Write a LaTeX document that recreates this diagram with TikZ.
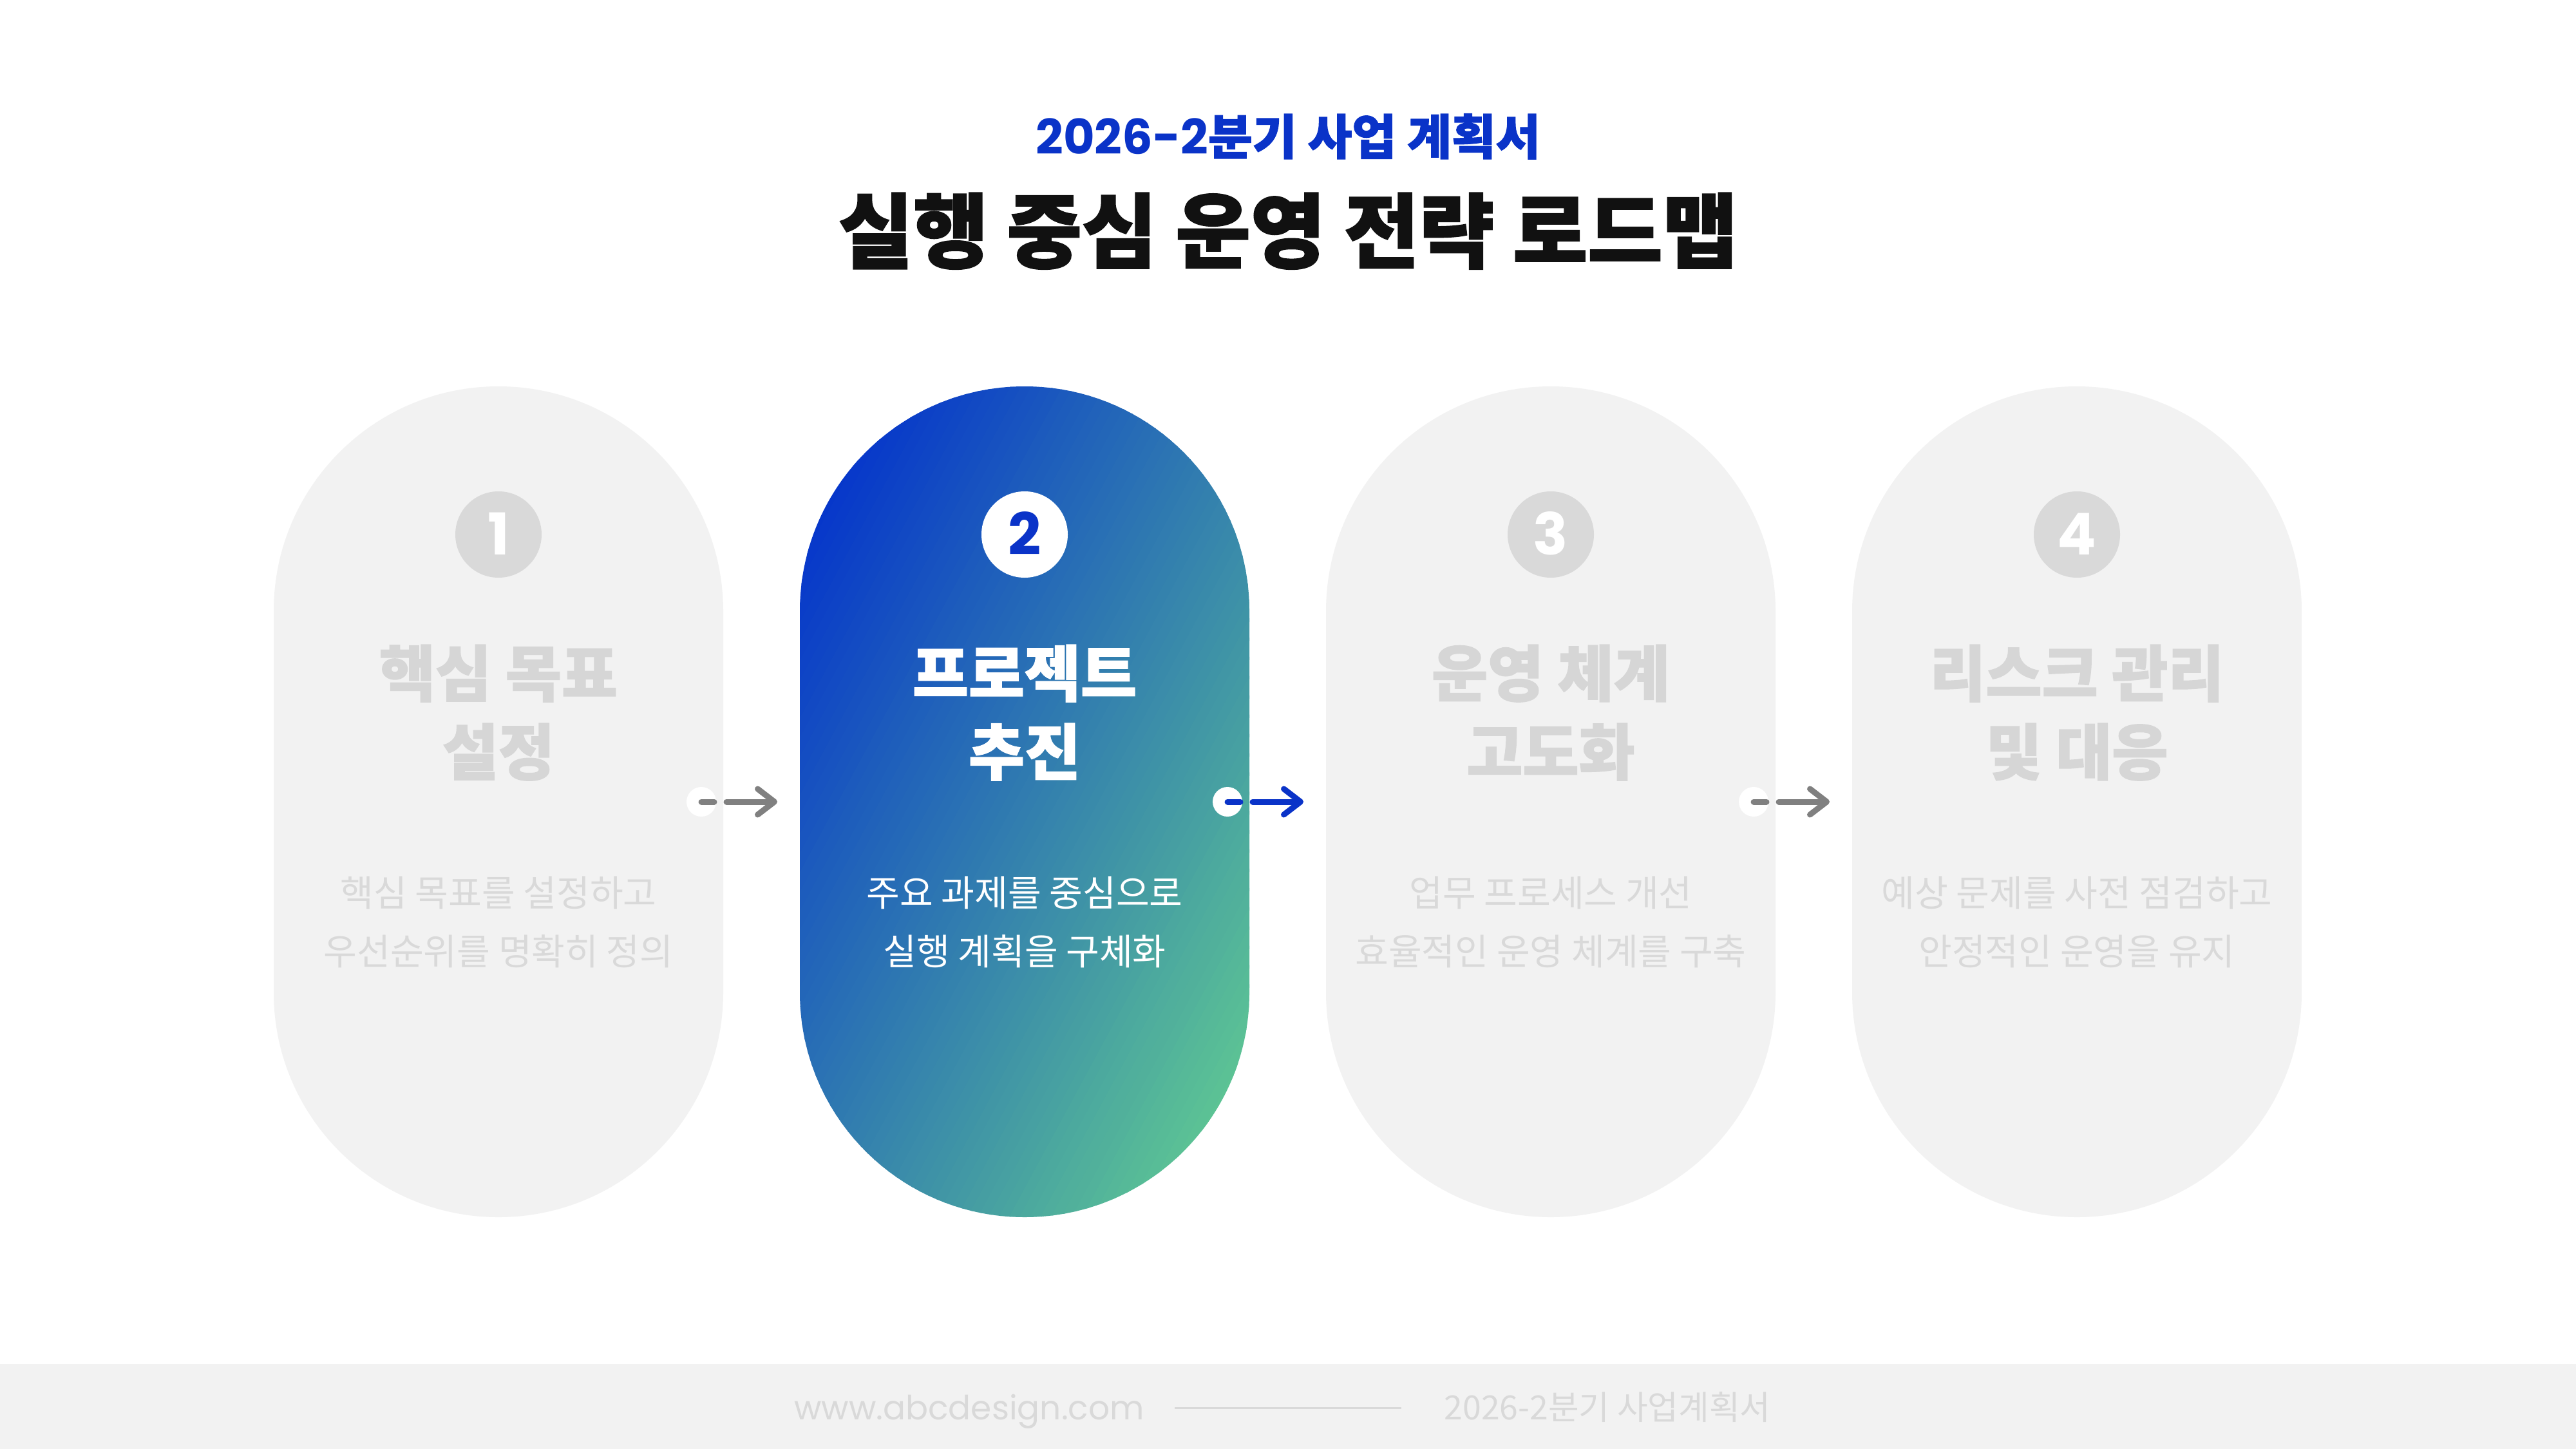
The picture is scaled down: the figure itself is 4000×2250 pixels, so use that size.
\documentclass[tikz,border=0pt]{standalone}
\usepackage{fontspec}
\usetikzlibrary{arrows.meta}
\setmainfont{Noto Sans CJK KR}
\newfontfamily\krblack[FakeBold=1.6]{Noto Sans CJK KR Black}
\newfontfamily\kr{Noto Sans CJK KR}
\newfontfamily\pop{Poppins}
\definecolor{brandblue}{HTML}{0A33C8}
\definecolor{gradblue}{HTML}{0433CC}
\definecolor{gradgreen}{HTML}{66D38E}
\definecolor{pillgray}{HTML}{F2F2F2}
\definecolor{circgray}{HTML}{D9D9D9}
\definecolor{textgray}{HTML}{D6D6D6}
\definecolor{arrowgray}{HTML}{808080}
\definecolor{titleblack}{HTML}{111111}
\begin{document}
\begin{tikzpicture}[x=1bp,y=-1bp,
  pill/.style={rectangle, rounded corners=349bp, minimum width=698bp, minimum height=1290bp, inner sep=0pt},
  graypill/.style={pill, fill=pillgray},
  numc/.style={circle, minimum size=134bp, inner sep=0pt, font=\fontsize{90}{90}\selectfont\pop\bfseries, text height=63bp, text depth=0pt},
  ttl/.style={anchor=base, inner sep=0pt, font=\fontsize{95}{95}\selectfont\krblack},
  desc/.style={anchor=base, inner sep=0pt, font=\fontsize{56.5}{56.5}\selectfont\kr},
  dotc/.style={circle, fill=white, minimum size=46bp, inner sep=0pt},
  conn/.style={line width=9bp, line cap=round, dash pattern=on 20bp off 19bp on 400bp, -{Straight Barb[length=26bp,width=40bp,line cap=round,line join=round]}},
  foot/.style={anchor=base, inner sep=0pt, text=circgray}
]
\useasboundingbox (0,0) rectangle (4000,2250);
\fill[white] (0,0) rectangle (4000,2250);

% header
\node[anchor=base, inner sep=0pt, text=brandblue, font=\fontsize{75}{75}\selectfont\krblack] (sub) at (2000,240) {{\pop\bfseries 2026-2}분기 사업 계획서};
\node[anchor=base, inner sep=0pt, text=titleblack, font=\fontsize{127}{127}\selectfont\krblack] (title) at (2000,406) {실행 중심 운영 전략 로드맵};

% pills
\node[graypill] (p1) at (774,1245) {};
\begin{scope}
  \clip[rounded corners=349bp] (1242,600) rectangle (1940,1890);
  \foreach \i in {0,...,79} {
    \pgfmathsetmacro\pct{100*\i/79}
    \pgfmathsetmacro\ga{90+\i*14.225-1.5}
    \pgfmathsetmacro\gb{90+(\i+1)*14.225+1.5}
    \ifnum\i=0 \def\ga{-400}\fi
    \ifnum\i=79 \def\gb{2400}\fi
    \fill[gradgreen!\pct!gradblue, shift={(1242,600)}, rotate=-28.4] (\ga,-3000) rectangle (\gb,3000);
  }
\end{scope}
\node[pill] (p2) at (1591,1245) {};
\node[graypill] (p3) at (2408,1245) {};
\node[graypill] (p4) at (3225,1245) {};

% number circles
\node[numc, fill=circgray, text=white] (n1) at (774,830) {1};
\node[numc, fill=white, text=brandblue] (n2) at (1591,830) {2};
\node[numc, fill=circgray, text=white] (n3) at (2408,830) {3};
\node[numc, fill=circgray, text=white] (n4) at (3225,830) {4};

% titles
\node[ttl, text=textgray] (t1a) at (774,1081) {핵심 목표};
\node[ttl, text=textgray] (t1b) at (774,1203) {설정};
\node[ttl, text=white] (t2a) at (1591,1081) {프로젝트};
\node[ttl, text=white] (t2b) at (1591,1203) {추진};
\node[ttl, text=textgray] (t3a) at (2408,1081) {운영 체계};
\node[ttl, text=textgray] (t3b) at (2408,1203) {고도화};
\node[ttl, text=textgray] (t4a) at (3225,1081) {리스크 관리};
\node[ttl, text=textgray] (t4b) at (3225,1203) {및 대응};

% descriptions
\node[desc, text=circgray] (d1a) at (774,1407) {핵심 목표를 설정하고};
\node[desc, text=circgray] (d1b) at (774,1498) {우선순위를 명확히 정의};
\node[desc, text=white] (d2a) at (1591,1407) {주요 과제를 중심으로};
\node[desc, text=white] (d2b) at (1591,1498) {실행 계획을 구체화};
\node[desc, text=circgray] (d3a) at (2408,1407) {업무 프로세스 개선};
\node[desc, text=circgray] (d3b) at (2408,1498) {효율적인 운영 체계를 구축};
\node[desc, text=circgray] (d4a) at (3225,1407) {예상 문제를 사전 점검하고};
\node[desc, text=circgray] (d4b) at (3225,1498) {안정적인 운영을 유지};

% connectors
\node[dotc] (k1) at (1089,1245) {};
\node[dotc] (k2) at (1906,1245) {};
\node[dotc] (k3) at (2723,1245) {};
\coordinate (e1) at (1207,1245);
\coordinate (e2) at (2024,1245);
\coordinate (e3) at (2841,1245);
\draw[conn, arrowgray] (k1.center) -- (e1);
\draw[conn, brandblue] (k2.center) -- (e2);
\draw[conn, arrowgray] (k3.center) -- (e3);

% footer
\fill[pillgray] (0,2118) rectangle (4000,2250);
\node[foot, font=\fontsize{52}{52}\selectfont\pop] (url) at (1505,2204) {www.abcdesign.com};
\coordinate (la) at (1824,2186);
\coordinate (lb) at (2176,2186);
\draw[circgray, line width=3bp] (la) -- (lb);
\node[foot, font=\fontsize{52}{52}\selectfont\kr] (fname) at (2496,2204) {2026-2분기 사업계획서};
\end{tikzpicture}
\end{document}
